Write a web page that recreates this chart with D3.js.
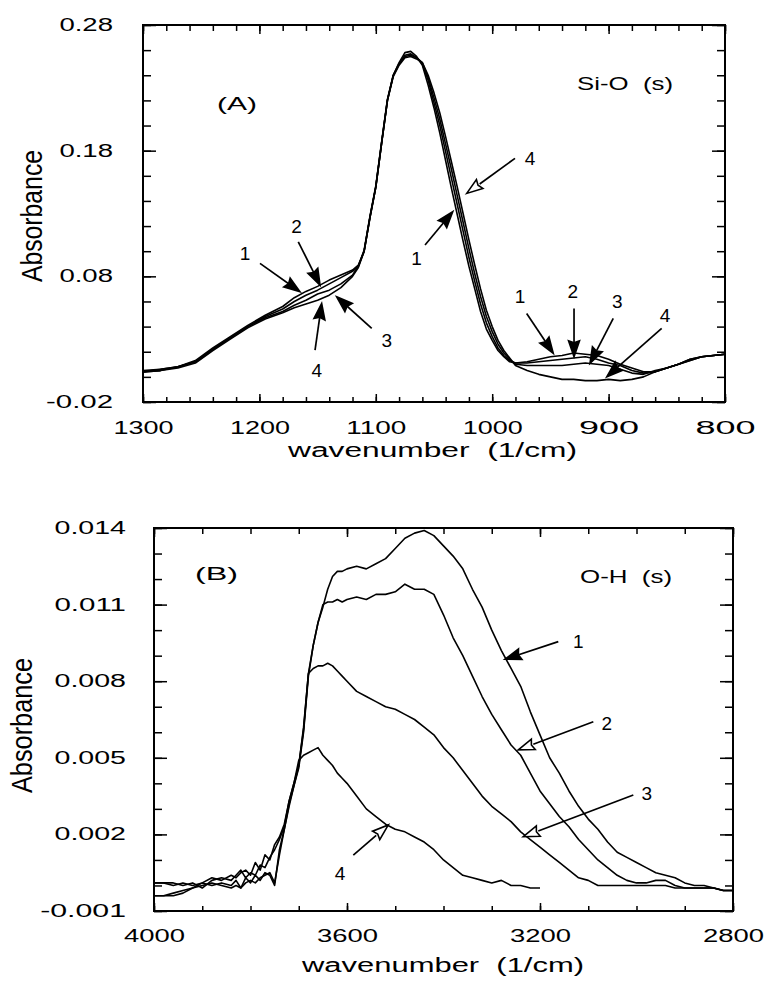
<!DOCTYPE html>
<html><head><meta charset="utf-8">
<script src="https://cdn.jsdelivr.net/npm/d3@7"></script>
<style>
body{margin:0;background:#fff}
svg{display:block}
text{font-family:"Liberation Sans",Arial,Helvetica,sans-serif;fill:#000}
</style>
</head><body>
<svg id="c" width="769" height="984"></svg>
<script>
// ---------------- DATA ----------------
// Panel A : Si-O stretching region
const wA = [1300,1285,1270,1255,1240,1225,1210,1195,1180,1170,1160,1150,1140,1130,1120,1115,1110,1105,1100,1095,1090,1085,1080,1075,1070,1065,1060,1055,1050,1045,1040,1035,1030,1025,1020,1015,1010,1005,1000,995,990,985,980,970,960,950,940,930,920,910,900,890,880,870,860,850,840,830,820,810,800];
const absA1 = [0.005,0.006,0.008,0.013,0.023,0.032,0.041,0.049,
  0.056,0.063,0.068,0.072,0.077,0.081,0.085,
  0.089,0.100,0.127,0.151,0.186,0.220,0.240,0.250,0.258,0.259,0.255,0.248,0.232,0.214,0.194,0.172,0.150,0.129,0.108,0.088,0.070,0.052,0.038,0.029,0.021,0.016,0.012,0.011,
  0.012,0.014,0.016,0.017,0.019,0.018,0.017,0.014,0.010,0.007,0.004,0.004,0.007,0.010,0.014,0.016,0.017,0.018];
const absA2 = [0.004,0.006,0.008,0.012,0.022,0.031,0.040,0.048,
  0.054,0.060,0.065,0.069,0.074,0.079,0.084,
  0.088,0.100,0.127,0.151,0.186,0.220,0.240,0.249,0.256,0.257,0.254,0.249,0.236,0.218,0.200,0.179,0.158,0.137,0.116,0.095,0.076,0.058,0.043,0.032,0.023,0.017,0.013,0.011,
  0.011,0.012,0.013,0.014,0.015,0.016,0.014,0.011,0.009,0.005,0.003,0.004,0.007,0.010,0.014,0.016,0.017,0.018];
const absA3 = [0.004,0.005,0.008,0.012,0.022,0.031,0.040,0.047,
  0.052,0.057,0.061,0.066,0.069,0.074,0.081,
  0.088,0.101,0.128,0.152,0.187,0.221,0.240,0.249,0.255,0.256,0.254,0.250,0.238,0.222,0.205,0.185,0.165,0.144,0.123,0.102,0.082,0.064,0.048,0.036,0.026,0.019,0.014,0.010,
  0.009,0.009,0.009,0.009,0.010,0.011,0.010,0.009,0.006,0.003,0.002,0.005,0.007,0.010,0.013,0.016,0.017,0.018];
const absA4 = [0.004,0.005,0.007,0.011,0.021,0.030,0.039,0.046,
  0.051,0.055,0.058,0.061,0.065,0.071,0.080,
  0.087,0.100,0.127,0.151,0.186,0.220,0.239,0.248,0.254,0.255,0.253,0.250,0.240,0.226,0.210,0.191,0.171,0.151,0.130,0.109,0.089,0.070,0.053,0.040,0.029,0.021,0.015,0.009,
  0.005,0.002,0.000,-0.002,-0.002,-0.003,-0.003,-0.002,-0.003,-0.002,0.000,0.004,0.007,0.010,0.013,0.016,0.017,0.018];

// Panel B : O-H stretching region
const wB = [4000,3980,3960,3940,3920,3900,3880,3860,3840,3830,3820,3810,3800,3790,3780,3770,3760,3750,3740,3730,3720,3710,3700,3690,3680,3670,3660,3650,3640,3630,3620,3610,3600,3580,3560,3540,3520,3500,3480,3460,3440,3420,3400,3380,3360,3340,3320,3300,3280,3260,3240,3220,3200,3180,3160,3140,3120,3100,3080,3060,3040,3020,3000,2980,2960,2940,2920,2900,2880,2860,2840,2820,2800];
const absB1 = [-0.0004,-0.0004,-0.0004,-0.0003,-0.0001,0.0000,0.0001,0.0000,-0.0001,0.0000,-0.0001,0.0001,0.0002,0.0001,0.0003,0.0004,0.0005,0.0001,0.0012,
  0.0022,0.0031,0.0039,0.0046,0.0060,0.0082,0.0094,0.0103,0.0109,0.0116,0.0121,0.0123,0.0123,0.0124,
  0.0125,0.0124,0.0126,0.0128,0.0132,0.0136,0.0138,0.0139,0.0137,0.0133,0.0129,0.0124,0.0116,0.0109,0.0100,0.0092,0.0085,0.0078,0.0068,0.0059,
  0.0050,0.0044,0.0037,0.0031,0.0026,0.0022,0.0017,0.0013,0.0011,0.0009,0.0007,0.0005,0.0004,0.0003,0.0001,0.0000,0.0000,-0.0001,-0.0002,-0.0002];
const absB2 = [-0.0004,-0.0004,-0.0003,-0.0002,-0.0001,0.0001,0.0000,0.0001,0.0000,0.0002,-0.0001,0.0003,0.0001,0.0004,0.0002,0.0005,0.0004,0.0000,0.0014,
  0.0022,0.0032,0.0039,0.0047,0.0061,0.0083,0.0094,0.0103,0.0110,0.0111,0.0111,0.0112,0.0111,0.0112,
  0.0113,0.0112,0.0114,0.0114,0.0115,0.0118,0.0116,0.0116,0.0114,0.0106,0.0097,0.0090,0.0082,0.0074,0.0067,0.0061,0.0055,0.0051,0.0044,0.0037,
  0.0032,0.0027,0.0023,0.0018,0.0014,0.0010,0.0007,0.0004,0.0002,0.0001,0.0001,0.0002,0.0002,0.0000,-0.0001,-0.0001,-0.0001,-0.0001,-0.0002,-0.0002];
const absB3 = [0.0001,0.0001,0.0001,0.0000,0.0001,-0.0001,0.0002,0.0003,0.0002,0.0004,0.0006,0.0003,0.0005,0.0004,0.0008,0.0007,0.0011,0.0014,0.0018,
  0.0023,0.0033,0.0040,0.0047,0.0062,0.0083,0.0085,0.0086,0.0086,0.0087,0.0086,0.0084,0.0082,0.0080,
  0.0076,0.0074,0.0072,0.0070,0.0069,0.0067,0.0065,0.0062,0.0059,0.0054,0.0050,0.0045,0.0040,0.0035,0.0031,0.0028,0.0025,0.0021,0.0018,0.0015,
  0.0012,0.0009,0.0006,0.0003,0.0002,0.0000,0.0000,0.0000,0.0000,0.0000,0.0000,0.0000,0.0000,-0.0001,-0.0001,-0.0001,-0.0001,-0.0001,-0.0002,-0.0002];
const absB4 = [0.0001,0.0001,0.0000,0.0001,0.0000,0.0001,0.0003,0.0002,0.0004,0.0003,0.0005,0.0006,0.0004,0.0009,0.0006,0.0012,0.0010,0.0016,0.0019,
  0.0024,0.0033,0.0040,0.0049,0.0051,0.0052,0.0053,0.0054,0.0051,0.0049,0.0047,0.0044,0.0042,0.0040,
  0.0035,0.0030,0.0027,0.0024,0.0022,0.0021,0.0019,0.0017,0.0014,0.0010,0.0007,0.0004,0.0003,0.0002,0.0001,0.0002,0.0000,0.0000,-0.0001,-0.0001,
  null,null,null,null,null,null,null,null,null,null,null,null,null,null,null,null,null,null,null,null];

// axis ticks
const xMajorA = [1300,1200,1100,1000,900,800];
const xMinorA = d3.range(1300,799,-20);
const yMajorA = [-0.02,0.08,0.18,0.28];
const yMinorA = d3.range(-0.02,0.2801,0.02);
const xMajorB = [4000,3600,3200,2800];
const xMinorB = d3.range(4000,2799,-100);
const yMajorB = [-0.001,0.002,0.005,0.008,0.011,0.014];
const yMinorB = d3.range(-0.001,0.01401,0.001);

// annotation arrows: [label, tailW, tailA, tipW, tipA, textW, textA, hollow]
const arrowsA = [
  ["1",1199.5,0.0903,1165.1,0.0677,1212.4,0.0985,false],
  ["2",1166.6,0.1075,1147.9,0.0730,1168.0,0.1194,false],
  ["3",1103.5,0.0386,1133.6,0.0637,1090.6,0.0293,false],
  ["4",1152.2,0.0213,1146.5,0.0585,1150.8,0.0054,false],
  ["4",980.4,0.1739,1021.9,0.1460,967.5,0.1739,true],
  ["1",1057.7,0.1049,1033.9,0.1314,1064.9,0.0943,false],
  ["1",970.4,0.0505,947.5,0.0187,976.1,0.0637,false],
  ["2",929.7,0.0545,929.7,0.0160,930.8,0.0677,false],
  ["3",896.0,0.0465,916.0,0.0107,892.5,0.0597,false],
  ["4",854.4,0.0386,901.6,0.0000,851.5,0.0492,false]
];
const arrowsB = [
  ["1",3162.1,0.00955,3272.5,0.00886,3120.6,0.00955,false],
  ["2",3089.5,0.00641,3245.0,0.00531,3061.8,0.00635,true],
  ["3",3006.6,0.00354,3234.6,0.00191,2978.9,0.00361,true],
  ["4",3586.9,0.00119,3514.4,0.00237,3614.5,0.00048,true]
];

// ---------------- DRAWING ----------------
const svg = d3.select("#c");
const NB = "\u00a0";

function drawPanel(o) {
  const x = d3.scaleLinear().domain(o.xDomain).range([o.left, o.right]);
  const y = d3.scaleLinear().domain(o.yDomain).range([o.bottom, o.top]);
  const g = svg.append("g");

  const put = (axis, tx, ty) => {
    const a = g.append("g").attr("transform", `translate(${tx},${ty})`).call(axis);
    a.select(".domain").remove();
    a.attr("font-family", null).attr("font-size", null);
    a.selectAll("line").attr("stroke", "#000").attr("stroke-width", 1.5);
    return a;
  };
  // minor ticks (all four sides, inward)
  put(d3.axisBottom(x).tickValues(o.xMinor).tickSize(-5).tickFormat(""), 0, o.bottom);
  put(d3.axisTop(x).tickValues(o.xMinor).tickSize(-6).tickFormat(""), 0, o.top);
  put(d3.axisLeft(y).tickValues(o.yMinor).tickSize(-8).tickFormat(""), o.left, 0);
  put(d3.axisRight(y).tickValues(o.yMinor).tickSize(-8).tickFormat(""), o.right, 0);
  // major ticks
  put(d3.axisTop(x).tickValues(o.xMajor).tickSize(-9).tickFormat(""), 0, o.top);
  put(d3.axisRight(y).tickValues(o.yMajor).tickSize(-13).tickFormat(""), o.right, 0);
  const bx = put(d3.axisBottom(x).tickValues(o.xMajor).tickSize(-8).tickFormat(d => String(d)), 0, o.bottom);
  bx.selectAll("text")
    .attr("dy", null).attr("y", o.xTickBase)
    .attr("text-anchor", "start")
    .attr("x", -o.xTickLen / 2)
    .attr("textLength", o.xTickLen).attr("lengthAdjust", "spacingAndGlyphs")
    .style("font-size", "18px");
  const ly = put(d3.axisLeft(y).tickValues(o.yMajor).tickSize(-13).tickFormat(d => d.toFixed(o.yDec)), o.left, 0);
  ly.selectAll("text")
    .attr("text-anchor", "start")
    .attr("x", function () { const n = this.textContent.length; return -o.yTickGap - o.yTickChar * n; })
    .attr("textLength", function () { return o.yTickChar * this.textContent.length; })
    .attr("lengthAdjust", "spacingAndGlyphs")
    .attr("dy", "0.3em")
    .style("font-size", "18px");

  // frame
  g.append("rect").attr("x", o.left).attr("y", o.top)
    .attr("width", o.right - o.left).attr("height", o.bottom - o.top)
    .attr("fill", "none").attr("stroke", "#000").attr("stroke-width", 2);

  // curves
  const line = d3.line().defined(d => d[1] !== null).x(d => x(d[0])).y(d => y(d[1]));
  const clip = "clip" + o.id;
  g.append("clipPath").attr("id", clip).append("rect")
    .attr("x", o.left).attr("y", o.top).attr("width", o.right - o.left).attr("height", o.bottom - o.top);
  const cg = g.append("g").attr("clip-path", `url(#${clip})`);
  o.series.forEach(s => {
    cg.append("path").datum(o.w.map((w, i) => [w, s[i]]))
      .attr("d", line).attr("fill", "none").attr("stroke", "#000")
      .attr("stroke-width", 1.6).attr("stroke-linejoin", "round");
  });

  // arrows
  o.arrows.forEach(a => {
    const x0 = x(a[1]), y0 = y(a[2]), x1 = x(a[3]), y1 = y(a[4]);
    const L = Math.hypot(x1 - x0, y1 - y0), ux = (x1 - x0) / L, uy = (y1 - y0) / L;
    const hl = 16, hw = 5.5;
    const bxp = x1 - hl * ux, byp = y1 - hl * uy;
    g.append("line").attr("x1", x0).attr("y1", y0).attr("x2", a[7] ? bxp : x1 - 4 * ux).attr("y2", a[7] ? byp : y1 - 4 * uy)
      .attr("stroke", "#000").attr("stroke-width", 1.7);
    g.append("path")
      .attr("d", `M${x1},${y1}L${bxp - hw * uy},${byp + hw * ux}L${bxp + 2 * ux},${byp + 2 * uy}L${bxp + hw * uy},${byp - hw * ux}Z`)
      .attr("fill", a[7] ? "#fff" : "#000").attr("stroke", "#000").attr("stroke-width", 1.6)
      .attr("stroke-linejoin", "miter");
    g.append("text").attr("x", x(a[5])).attr("y", y(a[6]))
      .attr("text-anchor", "middle").attr("dominant-baseline", "central")
      .style("font-size", "19px").text(a[0]);
  });

  // texts
  g.append("text").attr("x", o.xLabel[0]).attr("y", o.xLabel[2])
    .attr("textLength", o.xLabel[1] - o.xLabel[0]).attr("lengthAdjust", "spacingAndGlyphs")
    .style("font-size", "20px").text("wavenumber" + NB + NB + "(1/cm)");
  g.append("text").attr("transform", `translate(${o.yLabel[0]},${o.yLabel[2]}) rotate(-90)`)
    .attr("textLength", o.yLabel[2] - o.yLabel[1]).attr("lengthAdjust", "spacingAndGlyphs")
    .style("font-size", "30px").text("Absorbance");
  o.titles.forEach(t => {
    g.append("text").attr("x", t[1]).attr("y", t[3])
      .attr("textLength", t[2] - t[1]).attr("lengthAdjust", "spacingAndGlyphs")
      .style("font-size", "18px").text(t[0]);
  });
}

drawPanel({
  id: "A", left: 143, right: 725, top: 25, bottom: 402,
  xDomain: [1300, 800], yDomain: [-0.02, 0.28],
  xMajor: xMajorA, xMinor: xMinorA, yMajor: yMajorA, yMinor: yMinorA,
  xTickBase: 32, xTickLen: 60, yTickGap: 30, yTickChar: 13.4, yDec: 2,
  w: wA, series: [absA1, absA2, absA3, absA4], arrows: arrowsA,
  xLabel: [288, 577, 457], yLabel: [42, 150, 282],
  titles: [["(A)", 217, 257, 110], ["Si-O" + NB + NB + "(s)", 577, 673, 90]]
});
drawPanel({
  id: "B", left: 154, right: 733, top: 528, bottom: 911,
  xDomain: [4000, 2800], yDomain: [-0.001, 0.014],
  xMajor: xMajorB, xMinor: xMinorB, yMajor: yMajorB, yMinor: yMinorB,
  xTickBase: 31, xTickLen: 61, yTickGap: 28, yTickChar: 14.3, yDec: 3,
  w: wB, series: [absB1, absB2, absB3, absB4], arrows: arrowsB,
  xLabel: [302, 584, 972], yLabel: [32, 658, 793],
  titles: [["(B)", 195, 238, 580], ["O-H" + NB + NB + "(s)", 580, 672, 583]]
});
</script>
</body></html>
